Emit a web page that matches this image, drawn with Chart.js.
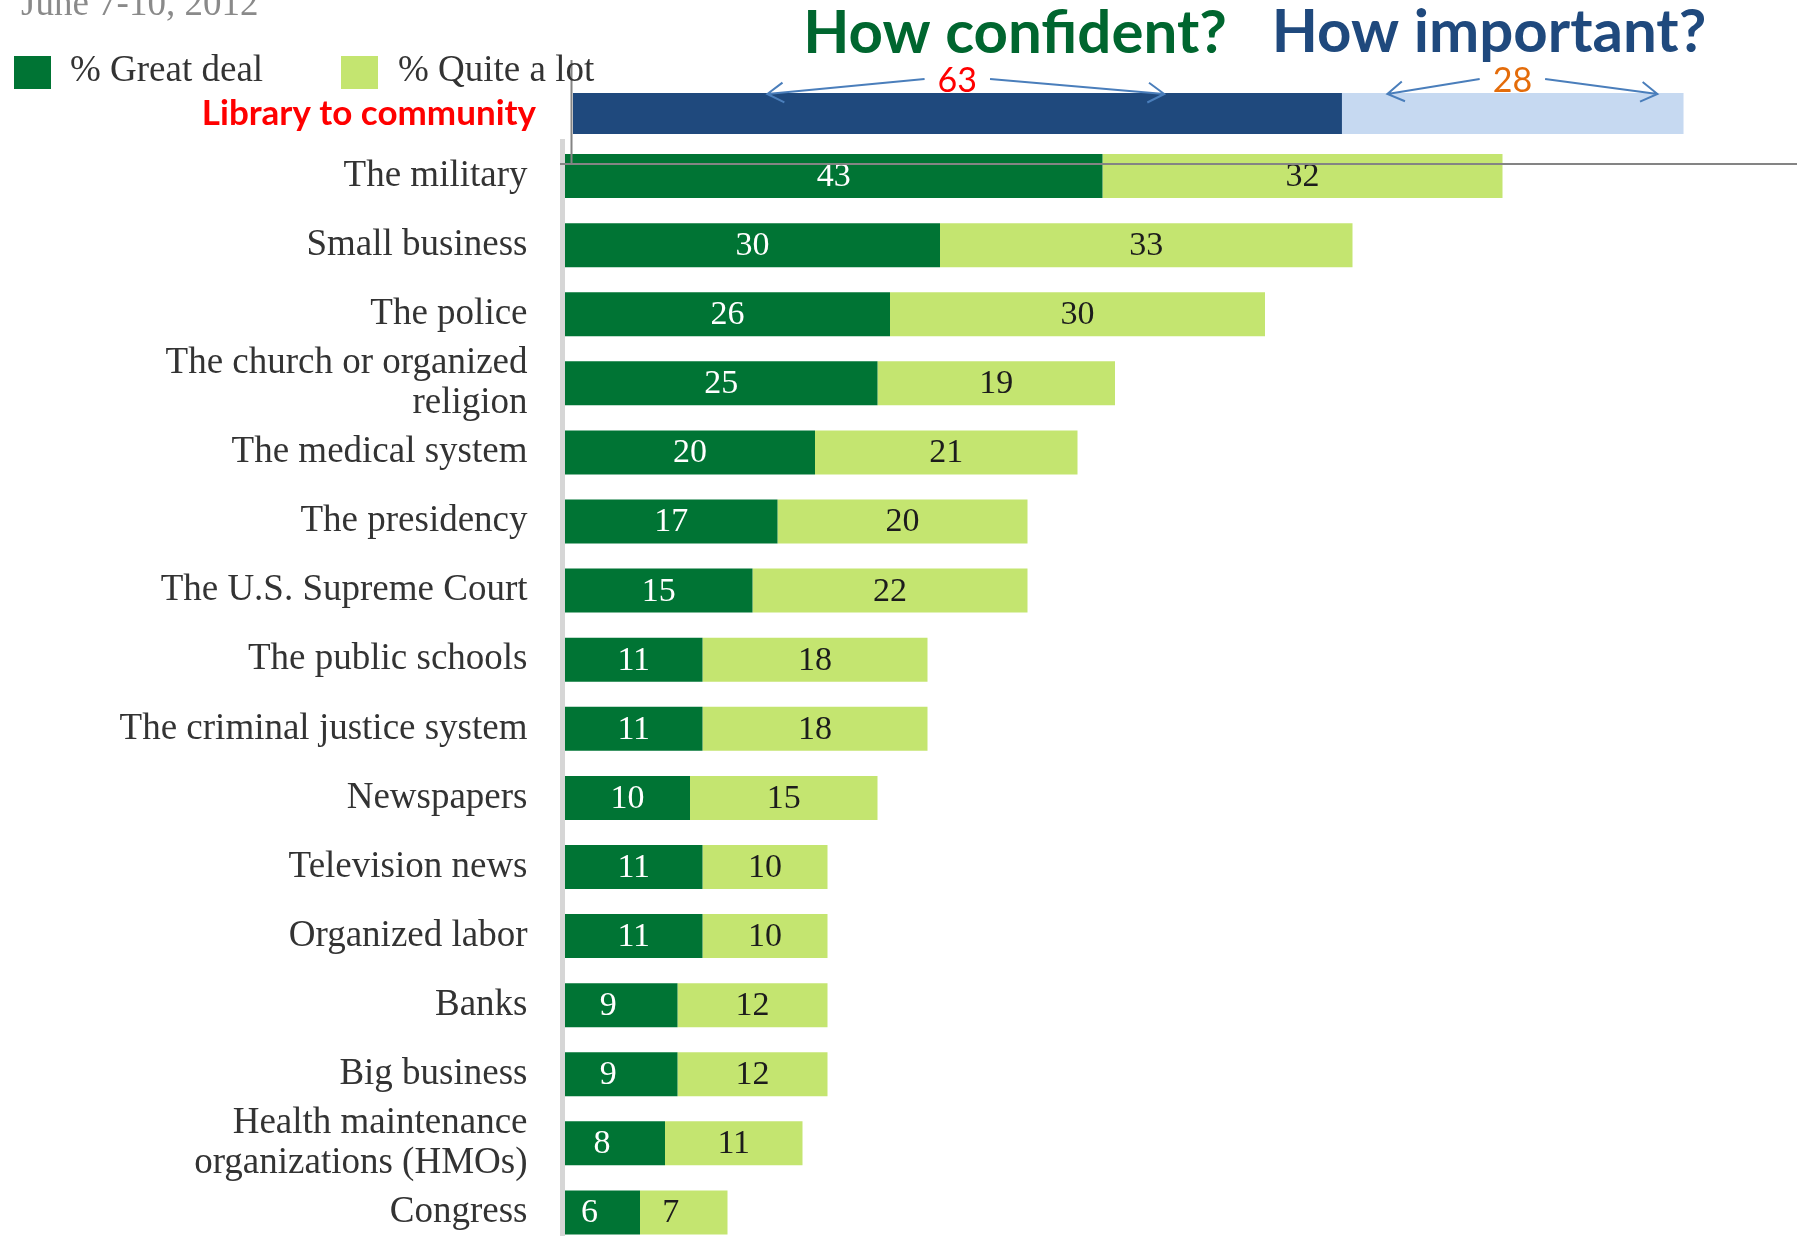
<!DOCTYPE html>
<html>
<head>
<meta charset="utf-8">
<title>Confidence in institutions</title>
<script src="https://cdn.jsdelivr.net/npm/chart.js@4.4.1/dist/chart.umd.min.js"></script>
<style>
  html, body { margin: 0; padding: 0; background: #fff; overflow: hidden; }
  #wrap { position: relative; width: 1797px; height: 1236px; }
  #chart, #library { position: absolute; left: 0; top: 0; }
</style>
</head>
<body>
<div id="wrap">
  <canvas id="chart" width="1797" height="1247"></canvas>
  <canvas id="library" width="1797" height="150"></canvas>
</div>
<script>
'use strict';

// Gallup survey, June 7-10, 2012
const surveyDate = 'June 7-10, 2012';
const institutions = [
  'The military',
  'Small business',
  'The police',
  ['The church or organized', 'religion'],
  'The medical system',
  'The presidency',
  'The U.S. Supreme Court',
  'The public schools',
  'The criminal justice system',
  'Newspapers',
  'Television news',
  'Organized labor',
  'Banks',
  'Big business',
  ['Health maintenance', 'organizations (HMOs)'],
  'Congress'
];
const greatDeal = [43, 30, 26, 25, 20, 17, 15, 11, 11, 10, 11, 11, 9, 9, 8, 6];
const quiteALot = [32, 33, 30, 19, 21, 20, 22, 18, 18, 15, 10, 10, 12, 12, 11, 7];

// library comparison bar on top
const libraryLabels = ['Library to community'];
const confident = [63];
const important = [28];

const SERIF = "'Liberation Serif', 'Times New Roman', serif";
const SANS = "Lato, 'Open Sans', sans-serif";

const darkGreen = '#007434';
const lightGreen = '#c4e570';

// the y axis would otherwise reserve room above/below for half a label
function pinAxis(width) {
  return function(scale) {
    scale.width = width;
    scale.paddingTop = 0;
    scale.paddingBottom = 0;
  };
}

// numbers inside each bar segment, plus the date line and legend in the top-left corner
const gallupDecor = {
  id: 'gallupDecor',
  afterDatasetsDraw(chart) {
    const ctx = chart.ctx;
    ctx.save();
    ctx.font = '34px ' + SERIF;
    ctx.textAlign = 'center';
    ctx.textBaseline = 'middle';
    chart.data.datasets.forEach((ds, i) => {
      const meta = chart.getDatasetMeta(i);
      ctx.fillStyle = i === 0 ? '#ffffff' : '#1c1c1c';
      meta.data.forEach((bar, j) => {
        const p = bar.getProps(['x', 'y', 'base'], true);
        const v = ds.data[j];
        // single digits sit a little left of centre
        const nudge = String(v).length === 1 ? -13 : 0;
        ctx.fillText(String(v), (p.x + p.base) / 2 + nudge, p.y + 1);
      });
    });

    // thin grey guide lines
    ctx.strokeStyle = '#848484';
    ctx.lineWidth = 2;
    ctx.beginPath();
    ctx.moveTo(560, 164);
    ctx.lineTo(chart.width, 164);
    ctx.moveTo(571.5, 60);
    ctx.lineTo(571.5, 164);
    ctx.stroke();
    ctx.restore();
  },
  afterDraw(chart) {
    const ctx = chart.ctx;
    ctx.save();
    ctx.textAlign = 'left';
    ctx.textBaseline = 'alphabetic';
    ctx.font = '37px ' + SERIF;
    ctx.fillStyle = '#8a8a8a';
    ctx.fillText(surveyDate, 21, 15);

    // legend
    const items = [{x: 14, tx: 70}, {x: 341, tx: 398}];
    chart.data.datasets.forEach((ds, i) => {
      ctx.fillStyle = ds.backgroundColor;
      ctx.fillRect(items[i].x, 56, 37, 33);
      ctx.fillStyle = '#333';
      ctx.fillText(ds.label, items[i].tx, 81);
    });
    ctx.restore();
  }
};

const chartElem = document.getElementById('chart');
new Chart(chartElem, {
  type: 'bar',
  data: {
    labels: institutions,
    datasets: [
      { label: '% Great deal', data: greatDeal, backgroundColor: darkGreen },
      { label: '% Quite a lot', data: quiteALot, backgroundColor: lightGreen }
    ]
  },
  options: {
    indexAxis: 'y',
    responsive: false,
    animation: false,
    events: [],
    datasets: { bar: { barPercentage: 0.637, categoryPercentage: 1 } },
    layout: { padding: { top: 141.5, right: 7, bottom: 0, left: 0 } },
    scales: {
      x: { stacked: true, display: false, min: -0.2, max: 98 },
      y: {
        stacked: true,
        grid: { display: false, drawTicks: false },
        border: { display: true, color: '#d6d6d6', width: 5 },
        ticks: {
          autoSkip: false,
          color: '#333',
          padding: 35,
          labelOffset: 0,
          font: { family: SERIF, size: 37, lineHeight: 1.08 }
        },
        afterFit: pinAxis(562.5)
      }
    },
    plugins: { legend: { display: false }, tooltip: { enabled: false } }
  },
  plugins: [gallupDecor]
});

// titles, value callouts and arrows for the library bar
const arrowReach = [[190, 207], [125, 145]];
const calloutColors = ['#ff0000', '#e46c0a'];
const titleStyle = [
  { x: 1015, y: 53, color: '#00662f' },
  { x: 1489, y: 52, color: '#1f497d' }
];

function drawArrow(ctx, x1, y1, x2, y2) {
  const a = Math.atan2(y2 - y1, x2 - x1);
  const h = 19, spread = 0.55;
  ctx.beginPath();
  ctx.moveTo(x1, y1);
  ctx.lineTo(x2, y2);
  ctx.moveTo(x2 - h * Math.cos(a - spread), y2 - h * Math.sin(a - spread));
  ctx.lineTo(x2, y2);
  ctx.lineTo(x2 - h * Math.cos(a + spread), y2 - h * Math.sin(a + spread));
  ctx.stroke();
}

const libraryNotes = {
  id: 'libraryNotes',
  afterDraw(chart) {
    const ctx = chart.ctx;
    ctx.save();
    chart.data.datasets.forEach((ds, i) => {
      // heading over the chart
      ctx.font = 'bold 60px ' + SANS;
      ctx.textAlign = 'center';
      ctx.textBaseline = 'alphabetic';
      ctx.fillStyle = titleStyle[i].color;
      ctx.fillText(ds.label, titleStyle[i].x, titleStyle[i].y);

      // number and double arrow over the segment
      const bar = chart.getDatasetMeta(i).data[0].getProps(['x', 'base'], true);
      const cx = (bar.x + bar.base) / 2;
      const txt = String(ds.data[0]);
      ctx.font = '34px ' + SANS;
      ctx.textBaseline = 'middle';
      ctx.fillStyle = calloutColors[i];
      ctx.fillText(txt, cx, 81);
      const half = ctx.measureText(txt).width / 2 + 13;
      ctx.strokeStyle = '#4a7ebb';
      ctx.lineWidth = 2;
      drawArrow(ctx, cx - half, 79, cx - arrowReach[i][0], 94);
      drawArrow(ctx, cx + half, 79, cx + arrowReach[i][1], 94);
    });
    ctx.restore();
  }
};

const libraryElem = document.getElementById('library');
new Chart(libraryElem, {
  type: 'bar',
  data: {
    labels: libraryLabels,
    datasets: [
      { label: 'How confident?', data: confident, backgroundColor: '#1f497d' },
      { label: 'How important?', data: important, backgroundColor: '#c6d9f1' }
    ]
  },
  options: {
    indexAxis: 'y',
    responsive: false,
    animation: false,
    events: [],
    datasets: { bar: { barPercentage: 1, categoryPercentage: 1 } },
    layout: { padding: { top: 93, right: 4, bottom: 16, left: 0 } },
    scales: {
      x: { stacked: true, display: false, min: 0, max: 100 },
      y: {
        stacked: true,
        grid: { display: false, drawTicks: false },
        border: { display: false },
        ticks: {
          color: '#ff0000',
          padding: 37,
          font: { family: SANS, size: 35, weight: 'bold' }
        },
        afterFit: pinAxis(573)
      }
    },
    plugins: { legend: { display: false }, tooltip: { enabled: false } }
  },
  plugins: [libraryNotes]
});
</script>
</body>
</html>
